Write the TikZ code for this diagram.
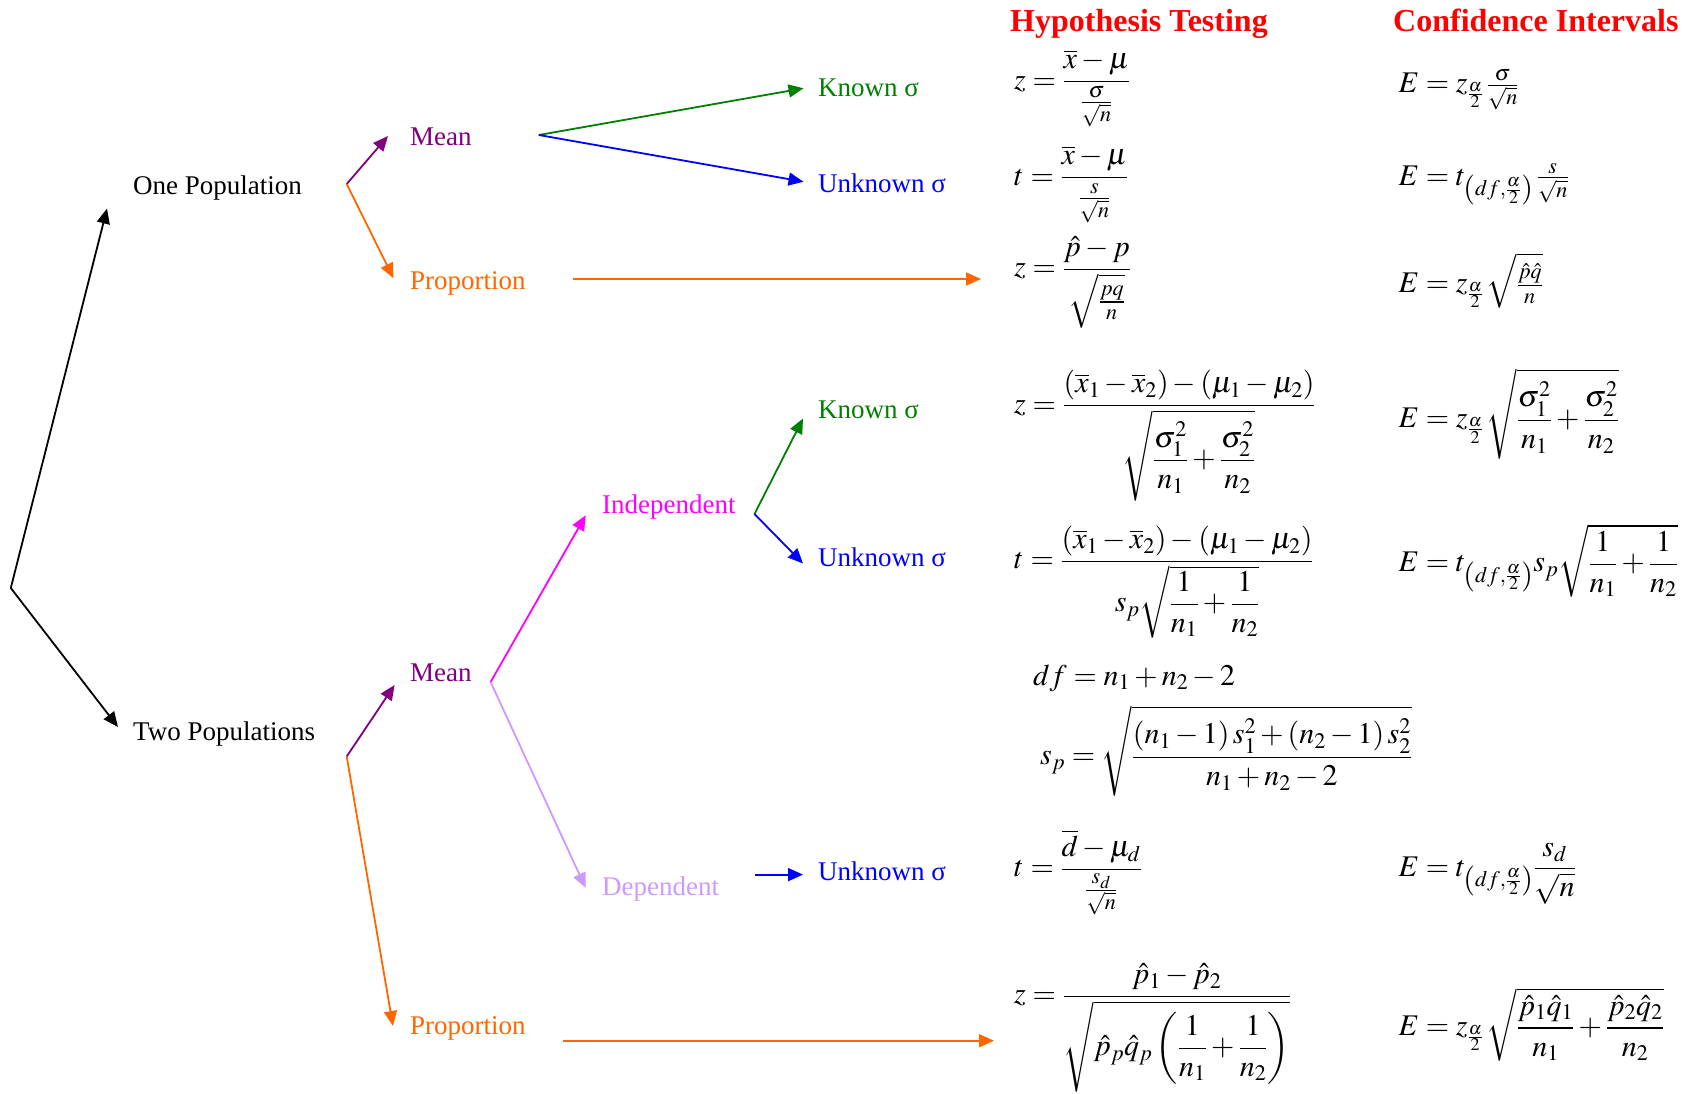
\documentclass[tikz,border=0pt]{standalone}
\usepackage{amsmath}
\usepackage{mathptmx}
\usepackage{fontspec}
\setmainfont{Liberation Serif}
\usetikzlibrary{arrows.meta}
\definecolor{cpurple}{RGB}{128,0,128}
\definecolor{corange}{RGB}{255,102,0}
\definecolor{cgreen}{RGB}{0,128,0}
\definecolor{cblue}{RGB}{0,0,255}
\definecolor{cmagenta}{RGB}{255,0,255}
\definecolor{clilac}{RGB}{204,153,255}
\definecolor{cred}{RGB}{255,0,0}
\tikzset{
  lbl/.style={inner sep=0pt, anchor=base west, font=\fontsize{27}{32}\selectfont},
  hdr/.style={inner sep=0pt, anchor=base west, text=cred, font=\fontsize{32}{36}\selectfont\bfseries},
  eq/.style={inner sep=0pt, anchor=west, font=\fontsize{30}{36}\selectfont},
  arr/.style={line width=1.8pt, -{Triangle[length=15pt,width=13pt]}},
}
\begin{document}
\begin{tikzpicture}[x=1pt,y=-1pt]
\useasboundingbox (0,0) rectangle (1691,1093);

% ---------- tree ----------
\coordinate (root) at (10.8,588);
\coordinate (tone) at (107,208.6);
\coordinate (ttwo) at (118,727);
\node[lbl] (one) at (133,194.3) {One Population};
\node[lbl] (two) at (133,740) {Two Populations};
\draw[arr,black] (root) -- (tone);
\draw[arr,black] (root) -- (ttwo);

% one population
\coordinate (b1) at (346.7,184);
\coordinate (tm1) at (388,136);
\coordinate (tp1) at (393.5,278.3);
\node[lbl,text=cpurple] (mean1) at (410,145) {Mean};
\node[lbl,text=corange] (prop1) at (410,289) {Proportion};
\draw[arr,cpurple] (b1) -- (tm1);
\draw[arr,corange] (b1) -- (tp1);

\coordinate (bm1) at (538.8,135);
\coordinate (tk1) at (803.5,88.3);
\coordinate (tu1) at (803.5,181.7);
\node[lbl,text=cgreen] (known1) at (818,96.7) {Known σ};
\node[lbl,text=cblue] (unk1) at (818,192.3) {Unknown σ};
\draw[arr,cgreen] (bm1) -- (tk1);
\draw[arr,cblue] (bm1) -- (tu1);

\coordinate (sp1) at (573,279);
\coordinate (ep1) at (981,279);
\draw[arr,corange] (sp1) -- (ep1);

% two populations
\coordinate (b2) at (346.7,756.5);
\coordinate (tm2) at (394.6,685);
\coordinate (tp2) at (393,1026);
\node[lbl,text=cpurple] (mean2) at (410,681) {Mean};
\node[lbl,text=corange] (prop2) at (410,1034) {Proportion};
\draw[arr,cpurple] (b2) -- (tm2);
\draw[arr,corange] (b2) -- (tp2);

\coordinate (bm2) at (490.6,682);
\coordinate (ti) at (585.7,515.3);
\coordinate (td) at (585.7,888);
\node[lbl,text=cmagenta] (indep) at (602,513) {Independent};
\node[lbl,text=clilac] (dep) at (602,895.6) {Dependent};
\draw[arr,cmagenta] (bm2) -- (ti);
\draw[arr,clilac] (bm2) -- (td);

\coordinate (bi) at (754.5,514);
\coordinate (tk2) at (803,418.5);
\coordinate (tu2) at (803,563.5);
\node[lbl,text=cgreen] (known2) at (818,418) {Known σ};
\node[lbl,text=cblue] (unk2) at (818,566.6) {Unknown σ};
\draw[arr,cgreen] (bi) -- (tk2);
\draw[arr,cblue] (bi) -- (tu2);

\coordinate (sd) at (754.5,874.6);
\coordinate (ed) at (803,874.6);
\node[lbl,text=cblue] (unk3) at (818,880) {Unknown σ};
\draw[arr,cblue] (sd) -- (ed);

\coordinate (sp2) at (562.5,1040.7);
\coordinate (ep2) at (994,1040.7);
\draw[arr,corange] (sp2) -- (ep2);

% ---------- headers ----------
\node[hdr] (hth) at (1010,31.7) {Hypothesis Testing};
\node[hdr] (cih) at (1393,31.7) {Confidence Intervals};

% ---------- hypothesis testing ----------
\node[eq] (ht1) at (1014,88.5) {$\displaystyle z=\frac{\overline{x}-\mu}{\frac{\sigma}{\sqrt{n}}}$};
\node[eq] (ht2) at (1014,184.4) {$\displaystyle t=\frac{\overline{x}-\mu}{\frac{s}{\sqrt{n}}}$};
\node[eq] (ht3) at (1014,282.5) {$\displaystyle z=\frac{\hat{p}-p}{\sqrt{\frac{pq}{n}}}$};
\node[eq] (ht4) at (1014,435.7) {$\displaystyle z=\frac{\left(\overline{x}_1-\overline{x}_2\right)-\left(\mu_1-\mu_2\right)}{\sqrt{\dfrac{\sigma_1^2}{n_1}+\dfrac{\sigma_2^2}{n_2}}}$};
\node[eq] (ht5) at (1014,582.3) {$\displaystyle t=\frac{\left(\overline{x}_1-\overline{x}_2\right)-\left(\mu_1-\mu_2\right)}{s_p\sqrt{\dfrac{1}{n_1}+\dfrac{1}{n_2}}}$};
\node[eq] (df) at (1033,678) {$\displaystyle df=n_1+n_2-2$};
\node[eq] (sp) at (1040,751) {$\displaystyle s_p=\sqrt{\frac{\left(n_1-1\right)s_1^2+\left(n_2-1\right)s_2^2}{n_1+n_2-2}}$};
\node[eq] (ht6) at (1014,872.4) {$\displaystyle t=\frac{\overline{d}-\mu_d}{\frac{s_d}{\sqrt{n}}}$};
\node[eq] (ht7) at (1014,1027.7) {$\displaystyle z=\frac{\hat{p}_1-\hat{p}_2}{\sqrt{\hat{p}_p\hat{q}_p\left(\dfrac{1}{n_1}+\dfrac{1}{n_2}\right)}}$};

% ---------- confidence intervals ----------
\node[eq] (ci1) at (1398.5,90) {$\displaystyle E=z_{\frac{\alpha}{2}}\,\tfrac{\sigma}{\sqrt{n}}$};
\node[eq] (ci2) at (1398.5,184.4) {$\displaystyle E=t_{\left(df,\frac{\alpha}{2}\right)}\,\tfrac{s}{\sqrt{n}}$};
\node[eq] (ci3) at (1398.5,280.4) {$\displaystyle E=z_{\frac{\alpha}{2}}\,\sqrt{\tfrac{\hat{p}\hat{q}}{n}}$};
\node[eq] (ci4) at (1398.5,414) {$\displaystyle E=z_{\frac{\alpha}{2}}\,\sqrt{\frac{\sigma_1^2}{n_1}+\frac{\sigma_2^2}{n_2}}$};
\node[eq] (ci5) at (1398.5,560.8) {$\displaystyle E=t_{\left(df,\frac{\alpha}{2}\right)}s_p\sqrt{\frac{1}{n_1}+\frac{1}{n_2}}$};
\node[eq] (ci6) at (1398.5,873.5) {$\displaystyle E=t_{\left(df,\frac{\alpha}{2}\right)}\frac{s_d}{\sqrt{n}}$};
\node[eq] (ci7) at (1398.5,1024.5) {$\displaystyle E=z_{\frac{\alpha}{2}}\,\sqrt{\frac{\hat{p}_1\hat{q}_1}{n_1}+\frac{\hat{p}_2\hat{q}_2}{n_2}}$};
\end{tikzpicture}
\end{document}
